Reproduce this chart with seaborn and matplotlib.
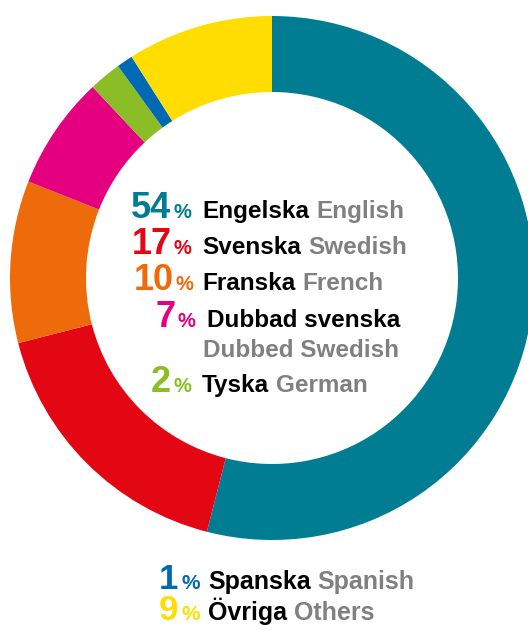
import matplotlib
matplotlib.use("Agg")
import matplotlib.pyplot as plt
import seaborn as sns

# share of films per language (%), clockwise from 12 o'clock
shares = [54, 17, 10, 7, 2, 1, 9]
names_sv = ["Engelska", "Svenska", "Franska", "Dubbad svenska", "Tyska", "Spanska", "Övriga"]
names_en = ["English", "Swedish", "French", "Dubbed Swedish", "German", "Spanish", "Others"]

palette = ["#007D93", "#E30613", "#EE6B0C", "#E4007E", "#8ABD26", "#0069B4", "#FFDD00"]
GREY = "#808080"

W, H = 528, 630

sns.set_theme(style="white")
plt.rcParams["font.family"] = ["Liberation Sans", "DejaVu Sans"]

fig = plt.figure(figsize=(W / 100, H / 100), dpi=100)

# donut: centre (272, 278) px from top-left, outer radius 262 px, ring 76 px
cx, cy, R, ring = 272, 278, 262, 76
ax = fig.add_axes([(cx - R) / W, 1 - (cy + R) / H, 2 * R / W, 2 * R / H])
ax.pie(shares, colors=palette, startangle=90, counterclock=False, radius=1,
       wedgeprops=dict(width=ring / R, linewidth=0))
ax.set_xlim(-1, 1)
ax.set_ylim(-1, 1)
ax.set_aspect("auto")
ax.axis("off")

renderer = fig.canvas.get_renderer()


def fx(x):
    return x / W


def fy(y):
    return 1 - y / H


def label_row(i, base_y, num_right, pct_x, word_x, num_size, pct_size, word_size):
    col = palette[i]
    fig.text(fx(num_right), fy(base_y), str(shares[i]), color=col, fontsize=num_size,
             fontweight="bold", ha="right", va="baseline")
    fig.text(fx(pct_x), fy(base_y), "%", color=col, fontsize=pct_size,
             fontweight="bold", ha="left", va="baseline")
    t = fig.text(fx(word_x), fy(base_y), names_sv[i], color="black", fontsize=word_size,
                 fontweight="bold", ha="left", va="baseline")
    return t


def grey_after(t, base_y, i, size, gap=7):
    bb = t.get_window_extent(renderer)
    fig.text(fx(bb.x1 + gap), fy(base_y), names_en[i], color=GREY, fontsize=size,
             fontweight="bold", ha="left", va="baseline")


# rows inside the ring
top_rows = [(0, 218, 171), (1, 254, 172), (2, 290, 174), (3, 327, 176), (4, 392, 171)]
for i, by, nr in top_rows:
    word_x = 207 if i == 3 else 202
    t = label_row(i, by, nr, nr + 2, word_x, 26, 14.5, 17.5)
    if i == 3:
        fig.text(fx(203), fy(357), names_en[i], color=GREY, fontsize=17.5,
                 fontweight="bold", ha="left", va="baseline")
    else:
        grey_after(t, by, i, 17.5)

# rows below the ring
for i, by in [(5, 589), (6, 620)]:
    t = label_row(i, by, 178, 181, 208, 25, 15, 18)
    grey_after(t, by, i, 18)

fig.savefig("out.png", dpi=100)
